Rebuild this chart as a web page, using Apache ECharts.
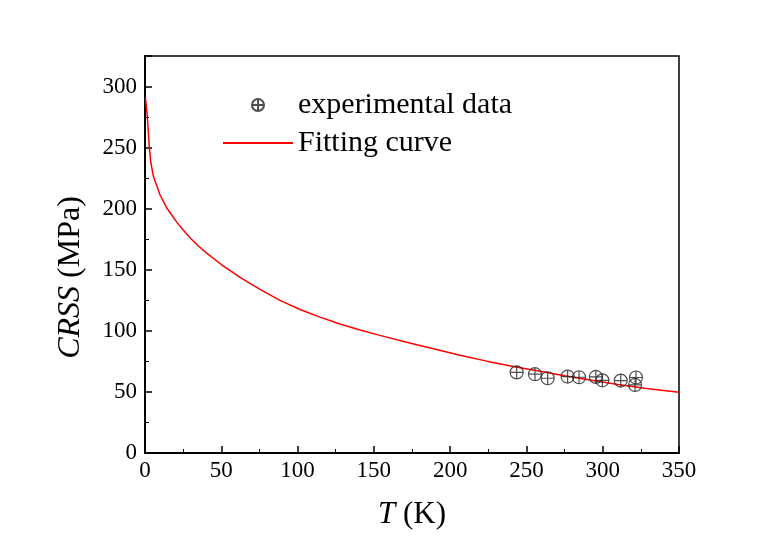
<!DOCTYPE html>
<html>
<head>
<meta charset="utf-8">
<script src="https://cdn.jsdelivr.net/npm/echarts@6/dist/echarts.min.js"></script>
<style>html,body{margin:0;padding:0;background:#fff;}#c{width:777px;height:542px;}</style>
</head>
<body>
<div id="c"></div>
<script>
// Experimental data (T in K, CRSS in MPa)
var expT    = [243.6, 255.6, 263.9, 277.0, 284.5, 295.5, 299.8, 311.8, 321.8, 321.2];
var expCRSS = [66.0, 64.5, 61.2, 62.6, 62.0, 62.3, 59.5, 59.3, 61.8, 55.7];

// Fitting curve
var fitT    = [0.3, 1.5, 2.8, 3.7, 5.5, 9.8, 14.2, 20.8, 25.0, 29.5, 35.0, 40.0, 50.0, 62.3, 75.4, 88.5, 101.6, 114.7, 127.8, 140.9, 154.0, 171.5, 189.0, 206.5, 224.0, 241.4, 258.9, 275.0, 291.7, 310.0, 330.0, 350.0];
var fitCRSS = [290.7, 275.6, 250.8, 238.8, 226.5, 211.4, 200.8, 189.0, 182.5, 176.2, 169.5, 164.0, 154.3, 143.8, 134.0, 125.0, 117.5, 111.2, 105.6, 100.7, 96.3, 90.6, 85.3, 80.0, 75.2, 70.8, 66.9, 63.2, 59.7, 56.0, 52.6, 49.7];

var xTicks = [0, 50, 100, 150, 200, 250, 300, 350];
var yTicks = [0, 50, 100, 150, 200, 250, 300];

var FONT = '"Liberation Serif", "Times New Roman", serif';

function zip(a, b) { return a.map(function (v, i) { return [v, b[i]]; }); }

var chart = echarts.init(document.getElementById('c'), null, {renderer: 'canvas'});
var crossCircle = 'path://M0,-10A10,10 0 1,1 0,10A10,10 0 1,1 0,-10Z M-10,0L10,0 M0,-10L0,10';

chart.setOption({
  backgroundColor: '#ffffff',
  animation: false,
  grid: {left: 145, top: 56, right: 98, bottom: 89, show: true, borderColor: '#000', borderWidth: 1.5, backgroundColor: 'transparent'},
  legend: {
    orient: 'vertical', left: 217, top: 84, itemWidth: 70, itemHeight: 12, itemGap: 6,
    textStyle: {fontFamily: FONT, fontSize: 30, color: '#000', lineHeight: 32},
    data: [
      {name: 'experimental data'},
      {name: 'Fitting curve', itemStyle: {color: 'rgba(0,0,0,0)', borderColor: 'rgba(0,0,0,0)', borderWidth: 0}}
    ]
  },
  xAxis: {
    type: 'value', min: xTicks[0], max: xTicks[xTicks.length - 1], interval: 50,
    name: '{i|T} (K)', nameLocation: 'middle', nameGap: 46,
    nameTextStyle: {fontFamily: FONT, fontSize: 31, color: '#000', rich: {i: {fontFamily: FONT, fontSize: 31, fontStyle: 'italic', color: '#000'}}},
    axisLine: {lineStyle: {color: '#000', width: 2}},
    axisTick: {inside: true, length: 7, lineStyle: {color: '#000', width: 1.5}},
    minorTick: {show: true, splitNumber: 2, length: 4, lineStyle: {color: '#000', width: 1}},
    axisLabel: {fontFamily: FONT, fontSize: 23, color: '#000', margin: 6},
    splitLine: {show: false}
  },
  yAxis: {
    type: 'value', min: yTicks[0], max: 325, interval: 50,
    name: '{i|CRSS} (MPa)', nameLocation: 'middle', nameGap: 58, nameRotate: 90,
    nameTextStyle: {fontFamily: FONT, fontSize: 32, color: '#000', padding: [0, 46, 0, 0], rich: {i: {fontFamily: FONT, fontSize: 32, fontStyle: 'italic', color: '#000'}}},
    axisLine: {lineStyle: {color: '#000', width: 2}},
    axisTick: {inside: true, length: 7, lineStyle: {color: '#000', width: 1.5}},
    minorTick: {show: true, splitNumber: 2, length: 4, lineStyle: {color: '#000', width: 1}},
    axisLabel: {fontFamily: FONT, fontSize: 23, color: '#000', margin: 8, showMaxLabel: false,
      formatter: function (v) { return yTicks.indexOf(v) >= 0 ? String(v) : ''; }},
    splitLine: {show: false}
  },
  series: [
    {
      name: 'experimental data', type: 'scatter', data: zip(expT, expCRSS),
      symbol: crossCircle, symbolSize: 13,
      itemStyle: {color: 'rgba(255,255,255,0)', borderColor: '#222', borderWidth: 1.2},
      z: 3
    },
    {
      name: 'Fitting curve', type: 'line', data: zip(fitT, fitCRSS),
      showSymbol: false, symbol: 'none', smooth: false,
      lineStyle: {color: '#ff0000', width: 1.5},
      itemStyle: {color: '#ff0000'},
      z: 2
    }
  ]
});
</script>
</body>
</html>
